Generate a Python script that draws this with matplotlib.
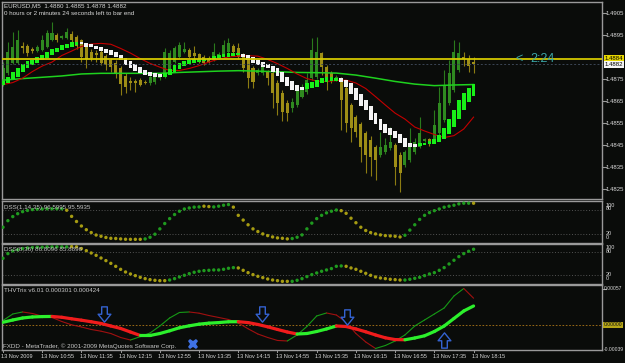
import matplotlib
matplotlib.use("Agg")
import matplotlib.pyplot as plt
import matplotlib.transforms as mtransforms
from matplotlib.collections import LineCollection
from matplotlib.path import Path
import numpy as np

plt.rcParams['font.family'] = ['Liberation Sans', 'DejaVu Sans']

# ---------------- data ----------------
title_line1 = "EURUSD,M5  1.4880 1.4885 1.4878 1.4882"
title_line2 = "0 hours or 2 minutes 24 seconds left to bar end"
time_labels = ["13 Nov 2009", "13 Nov 10:55", "13 Nov 11:35", "13 Nov 12:15", "13 Nov 12:55",
               "13 Nov 13:35", "13 Nov 14:15", "13 Nov 14:55", "13 Nov 15:35", "13 Nov 16:15",
               "13 Nov 16:55", "13 Nov 17:35", "13 Nov 18:15"]
price_ticks = [1.4905, 1.4895, 1.4875, 1.4865, 1.4855, 1.4845, 1.4835, 1.4825]

open_ = [1.48727, 1.48777, 1.48823, 1.48823, 1.48900, 1.48900, 1.48886, 1.48877, 1.48882, 1.48895,
         1.48927, 1.48950, 1.48936, 1.48936, 1.48954, 1.48941, 1.48927, 1.48904, 1.48873, 1.48868,
         1.48873, 1.48854, 1.48836, 1.48823, 1.48800, 1.48764, 1.48741, 1.48741, 1.48745, 1.48736,
         1.48732, 1.48736, 1.48754, 1.48759, 1.48791, 1.48827, 1.48850, 1.48873, 1.48882, 1.48868,
         1.48864, 1.48850, 1.48845, 1.48836, 1.48850, 1.48850, 1.48873, 1.48900, 1.48891, 1.48859,
         1.48850, 1.48800, 1.48777, 1.48777, 1.48782, 1.48777, 1.48732, 1.48686, 1.48641, 1.48618,
         1.48632, 1.48668, 1.48691, 1.48754, 1.48759, 1.48868, 1.48804, 1.48777, 1.48745, 1.48754,
         1.48709, 1.48632, 1.48577, 1.48545, 1.48504, 1.48473, 1.48441, 1.48404, 1.48418, 1.48436,
         1.48450, 1.48404, 1.48359, 1.48382, 1.48418, 1.48441, 1.48468, 1.48477, 1.48473, 1.48504,
         1.48564, 1.48641, 1.48700, 1.48791, 1.48850, 1.48841, 1.48827]
high_ = [1.48827, 1.48918, 1.48964, 1.48973, 1.48918, 1.48909, 1.48895, 1.48904, 1.48950, 1.48973,
         1.49009, 1.48959, 1.48950, 1.48982, 1.48968, 1.48950, 1.48932, 1.48913, 1.48886, 1.48882,
         1.48882, 1.48864, 1.48845, 1.48836, 1.48809, 1.48777, 1.48759, 1.48750, 1.48754, 1.48745,
         1.48768, 1.48764, 1.48773, 1.48891, 1.48882, 1.48900, 1.48918, 1.48918, 1.48891, 1.48900,
         1.48868, 1.48859, 1.48854, 1.48913, 1.48873, 1.48927, 1.48936, 1.48909, 1.48913, 1.48868,
         1.48859, 1.48809, 1.48800, 1.48818, 1.48791, 1.48786, 1.48745, 1.48700, 1.48654, 1.48664,
         1.48723, 1.48727, 1.48777, 1.48936, 1.48941, 1.48873, 1.48814, 1.48786, 1.48768, 1.48759,
         1.48718, 1.48641, 1.48586, 1.48554, 1.48514, 1.48491, 1.48450, 1.48509, 1.48482, 1.48532,
         1.48459, 1.48418, 1.48427, 1.48527, 1.48482, 1.48577, 1.48482, 1.48482, 1.48609, 1.48714,
         1.48791, 1.48836, 1.48927, 1.48918, 1.48873, 1.48859, 1.48850]
low_ = [1.48718, 1.48768, 1.48818, 1.48818, 1.48868, 1.48854, 1.48868, 1.48873, 1.48877, 1.48891,
        1.48923, 1.48918, 1.48932, 1.48932, 1.48918, 1.48886, 1.48827, 1.48800, 1.48832, 1.48827,
        1.48814, 1.48791, 1.48782, 1.48754, 1.48677, 1.48686, 1.48700, 1.48691, 1.48718, 1.48727,
        1.48723, 1.48727, 1.48745, 1.48754, 1.48782, 1.48823, 1.48845, 1.48868, 1.48845, 1.48836,
        1.48823, 1.48814, 1.48823, 1.48832, 1.48845, 1.48845, 1.48868, 1.48864, 1.48841, 1.48782,
        1.48709, 1.48709, 1.48768, 1.48768, 1.48723, 1.48618, 1.48586, 1.48559, 1.48559, 1.48600,
        1.48623, 1.48664, 1.48682, 1.48745, 1.48750, 1.48768, 1.48700, 1.48732, 1.48741, 1.48518,
        1.48509, 1.48464, 1.48486, 1.48373, 1.48323, 1.48309, 1.48291, 1.48395, 1.48409, 1.48427,
        1.48268, 1.48236, 1.48350, 1.48373, 1.48409, 1.48436, 1.48464, 1.48445, 1.48464, 1.48495,
        1.48554, 1.48632, 1.48691, 1.48782, 1.48809, 1.48782, 1.48777]
close_ = [1.48800, 1.48873, 1.48895, 1.48927, 1.48891, 1.48868, 1.48877, 1.48895, 1.48927, 1.48959,
          1.48959, 1.48927, 1.48945, 1.48964, 1.48927, 1.48900, 1.48850, 1.48841, 1.48845, 1.48859,
          1.48823, 1.48814, 1.48804, 1.48777, 1.48727, 1.48714, 1.48732, 1.48732, 1.48723, 1.48732,
          1.48759, 1.48759, 1.48768, 1.48873, 1.48868, 1.48891, 1.48904, 1.48886, 1.48850, 1.48854,
          1.48836, 1.48823, 1.48827, 1.48873, 1.48864, 1.48904, 1.48913, 1.48873, 1.48850, 1.48800,
          1.48754, 1.48736, 1.48791, 1.48804, 1.48754, 1.48686, 1.48641, 1.48600, 1.48595, 1.48645,
          1.48700, 1.48700, 1.48745, 1.48882, 1.48873, 1.48804, 1.48754, 1.48741, 1.48759, 1.48654,
          1.48550, 1.48527, 1.48509, 1.48441, 1.48404, 1.48395, 1.48382, 1.48441, 1.48450, 1.48464,
          1.48350, 1.48323, 1.48418, 1.48450, 1.48464, 1.48504, 1.48477, 1.48459, 1.48541, 1.48641,
          1.48723, 1.48777, 1.48873, 1.48868, 1.48841, 1.48809, 1.48818]

ha_open = [1.48723, 1.48732, 1.48750, 1.48759, 1.48782, 1.48800, 1.48814, 1.48823, 1.48836, 1.48845,
           1.48859, 1.48873, 1.48882, 1.48891, 1.48895, 1.48904, 1.48918, 1.48913, 1.48909, 1.48900,
           1.48895, 1.48886, 1.48882, 1.48873, 1.48859, 1.48845, 1.48832, 1.48818, 1.48804, 1.48791,
           1.48782, 1.48777, 1.48773, 1.48759, 1.48768, 1.48782, 1.48795, 1.48809, 1.48818, 1.48823,
           1.48827, 1.48832, 1.48836, 1.48841, 1.48845, 1.48850, 1.48850, 1.48854, 1.48859, 1.48864,
           1.48859, 1.48850, 1.48836, 1.48827, 1.48818, 1.48809, 1.48800, 1.48782, 1.48759, 1.48741,
           1.48723, 1.48714, 1.48704, 1.48709, 1.48714, 1.48732, 1.48736, 1.48741, 1.48741, 1.48754,
           1.48745, 1.48732, 1.48709, 1.48682, 1.48654, 1.48627, 1.48595, 1.48568, 1.48545, 1.48527,
           1.48514, 1.48500, 1.48482, 1.48459, 1.48454, 1.48445, 1.48450, 1.48454, 1.48454, 1.48464,
           1.48477, 1.48500, 1.48532, 1.48568, 1.48609, 1.48645, 1.48673]
ha_close = [1.48741, 1.48759, 1.48782, 1.48800, 1.48818, 1.48832, 1.48836, 1.48850, 1.48859, 1.48873,
            1.48886, 1.48891, 1.48904, 1.48909, 1.48918, 1.48918, 1.48909, 1.48895, 1.48895, 1.48886,
            1.48877, 1.48868, 1.48859, 1.48850, 1.48836, 1.48814, 1.48800, 1.48786, 1.48777, 1.48768,
            1.48764, 1.48759, 1.48759, 1.48777, 1.48795, 1.48814, 1.48823, 1.48832, 1.48836, 1.48841,
            1.48841, 1.48841, 1.48845, 1.48854, 1.48859, 1.48864, 1.48868, 1.48868, 1.48868, 1.48850,
            1.48836, 1.48823, 1.48814, 1.48804, 1.48800, 1.48782, 1.48764, 1.48736, 1.48718, 1.48700,
            1.48695, 1.48700, 1.48732, 1.48736, 1.48745, 1.48754, 1.48759, 1.48759, 1.48754, 1.48736,
            1.48714, 1.48682, 1.48654, 1.48627, 1.48609, 1.48564, 1.48545, 1.48518, 1.48504, 1.48495,
            1.48482, 1.48459, 1.48441, 1.48441, 1.48441, 1.48459, 1.48459, 1.48468, 1.48477, 1.48495,
            1.48527, 1.48568, 1.48609, 1.48654, 1.48686, 1.48709, 1.48727]

red_ma_bars = list(range(0, 97, 2))
red_ma = [1.48725, 1.48734, 1.48754, 1.48784, 1.48809, 1.48827, 1.48857, 1.48877, 1.48898, 1.48909,
          1.48912, 1.48908, 1.48889, 1.48868, 1.48843, 1.48821, 1.48804, 1.48789, 1.48789, 1.48798,
          1.48811, 1.48827, 1.48841, 1.48850, 1.48854, 1.48856, 1.48854, 1.48839, 1.48820, 1.48798,
          1.48773, 1.48752, 1.48741, 1.48739, 1.48743, 1.48745, 1.48732, 1.48707, 1.48670, 1.48632,
          1.48595, 1.48568, 1.48532, 1.48514, 1.48498, 1.48484, 1.48493, 1.48523, 1.48577]
green_ma_bars = list(range(0, 97, 4))
green_ma = [1.48745, 1.48752, 1.48758, 1.48764, 1.48773, 1.48776, 1.48776, 1.48776, 1.48776, 1.48780,
            1.48783, 1.48786, 1.48788, 1.48786, 1.48783, 1.48780, 1.48779, 1.48777, 1.48768, 1.48754,
            1.48739, 1.48727, 1.48720, 1.48723, 1.48725]
hline_price = 1.4884
bid_price = 1.4882

dss1_label = "DSS(1,14,35) 96.5995 95.5935"
dss1 = [37, 53, 63, 70, 75, 78, 80, 81, 81.5, 82, 82, 82, 82, 78.5, 63.5, 51, 40, 31, 24, 18,
        15, 12, 10, 9.5, 8.5, 7.7, 7.5, 7.5, 7.5, 8.5, 12.5, 20, 33, 46, 58, 68, 76, 81.5, 84, 86,
        86.6, 88.3, 87.4, 86.6, 88.3, 90.7, 92.3, 86, 66, 54.5, 43, 33, 26.5, 20.7, 16.6, 13.3, 11, 10, 8.6, 9.4,
        12.6, 18.3, 33, 47, 58, 66, 72, 76, 79, 77.4, 71, 59, 48, 37, 29, 24, 20.7, 18.3, 16.6, 15.8,
        15, 13.3, 17.4, 30, 43, 56, 66, 72.6, 77.4, 81.5, 85.8, 88.3, 90.7, 94, 95.6, 95.6, 95.6]
dss1_trend = ("GGGGGGGGGGGGG" + "OOOOOOOOOOOOOOOO" + "GGGGGGGGGGGG" + "OO" + "GGGG" +
              "OOOOOOOOOOOO" + "GGGGGGGGGG" + "OOOOOOOOOOOOO" + "GGGGGGGGGGGGGG" + "O")
dss2_label = "DSS(8,36) 86.8096 85.8896"
dss2 = [64, 76, 83, 86, 89, 90.6, 91.5, 92.4, 92.4, 93.3, 93.3, 93.3, 93.3, 93.3, 94, 93.3, 89, 83.6, 77.6, 71.6,
        64.7, 58, 51, 43.3, 35.6, 28.8, 23.7, 19.4, 15.1, 11.7, 9.1, 7.4, 6.5, 6.5, 8.2, 11.7, 16, 20.3, 24.5, 28,
        30.6, 32.3, 33.1, 34, 34, 35.7, 38.3, 40, 39.2, 33.1, 27.1, 22, 17.7, 14.3, 10.8, 8.2, 6.5, 4.8, 4.8, 4.8,
        7.4, 11.7, 16.9, 22, 26.3, 30.6, 34, 37.5, 43.4, 44.3, 43.4, 39.2, 35.7, 30.6, 25.4, 20.3, 16, 13.4, 11.7, 10,
        9.1, 8.2, 8.2, 10, 12.5, 15.1, 19.4, 23.7, 27.1, 33.1, 40, 49.4, 58.9, 68.3, 76, 82, 87.2]
dss2_trend = ("GGGGGGGGGGGGGG" + "OOOOOOOOOOOOOOOOOOOO" + "GGGGGGGGGGGGGG" + "OOOOOOOOOOO" +
              "GGGGGGGGGGG" + "OOOOOOOOOOOO" + "GGGGGGGGGGGGGGG")

thv_label = "THVTrix v6.01 0.000301 0.000424"
thv_bars = list(range(0, 97, 2))
thv_main = [0.000043, 0.000079, 0.000111, 0.000127, 0.000133, 0.000135, 0.000122, 0.000098, 0.000076, 0.000051,
            0.000024, -0.000016, -0.000055, -0.000111, -0.000166, -0.000166, -0.000135, -0.000092, -0.000044, -0.000013,
            0.000013, 0.000029, 0.000038, 0.000051, 0.000052, 0.000038, 0.000008, -0.000029, -0.000071, -0.000111,
            -0.000143, -0.000135, -0.000103, -0.000063, -0.000016, -0.000024, -0.000063, -0.000108, -0.000158, -0.000203,
            -0.000231, -0.000234, -0.000206, -0.000171, -0.000103, -0.000016, 0.000103, 0.000222, 0.000301]
thv_fast = [0.000071, 0.000174, 0.000206, 0.000182, 0.000139, 0.000119, 0.000055, 0.000003, -0.000032, -0.000071,
            -0.000098, -0.000135, -0.000198, -0.000238, -0.000185, -0.000127, -0.000016, 0.000111, 0.000198, 0.000206,
            0.000187, 0.000150, 0.000119, 0.000087, 0.000032, -0.000060, -0.000143, -0.000198, -0.000245, -0.000253,
            -0.000158, -0.000024, 0.000143, 0.000190, 0.000158, 0.000048, -0.000135, -0.000269, -0.000372, -0.000325,
            -0.000253, -0.000158, -0.000016, 0.000079, 0.000174, 0.000269, 0.000459, 0.000578, 0.000424]
sell_arrow_bars = [20.6, 52.8, 70.2]
sell_arrow_vals = [0.000166, 0.000166, 0.000119]
buy_arrow_bars = [90.0]
buy_arrow_vals = [-0.00023]
cross_bars = [38.8]
cross_vals = [-0.00030]
copyright_text = "FXDD - MetaTrader, \u00a9 2001-2009 MetaQuotes Software Corp."

# ---------------- styling ----------------
W, H = 625, 363
BG = '#0a0c0a'
SPINE = '#9a9a9a'
TXT = '#d8d8d8'
FS = 4.5
n = len(open_)
x = np.arange(n)
XL = (-0.2, 122.2)

fig = plt.figure(figsize=(W / 100, H / 100), dpi=100, facecolor=BG)


def ax_px(x0, y0, x1, y1):
    a = fig.add_axes([x0 / W, 1 - y1 / H, (x1 - x0) / W, (y1 - y0) / H])
    a.set_facecolor(BG)
    for s in a.spines.values():
        s.set_color(SPINE)
        s.set_linewidth(1.0)
    a.set_xticks([])
    a.set_yticks([])
    a.set_xlim(*XL)
    return a


def rtext(ax, yval, s, dx=4, **kw):
    tr = mtransforms.offset_copy(mtransforms.blended_transform_factory(ax.transAxes, ax.transData),
                                 fig=fig, x=dx, y=0, units='dots')
    kw.setdefault('color', TXT)
    kw.setdefault('fontsize', FS)
    ax.text(1.0, yval, s, transform=tr, ha='left', va='center', **kw)


def rtick(ax, yval):
    tr = mtransforms.blended_transform_factory(ax.transAxes, ax.transData)
    ax.plot([1.0, 1.006], [yval, yval], color=SPINE, lw=0.8, transform=tr, clip_on=False)


def ltext(ax, px_x, px_y_from_top, s, **kw):
    kw.setdefault('color', TXT)
    kw.setdefault('fontsize', FS)
    fig.text(px_x / W, 1 - px_y_from_top / H, s, ha='left', va='center', **kw)


# ---------------- main panel ----------------
ax = ax_px(2, 2, 602, 199)
ax.set_ylim(1.48205, 1.49100)

o = np.array(open_); c = np.array(close_); hi = np.array(high_); lo = np.array(low_)
bull = c >= o
body_col = np.where(bull, '#2f8a20', '#9e8e16')
wick_col = np.where(bull, '#2a7a1c', '#8c7c12')
ax.vlines(x, lo, hi, colors=wick_col, lw=0.8, zorder=2)
ax.bar(x, np.maximum(np.abs(c - o), 0.00002), bottom=np.minimum(o, c), width=0.62,
       color=body_col, lw=0, zorder=2.2)

ax.plot(green_ma_bars, green_ma, color='#1ed21e', lw=1.1, zorder=3)
ax.plot(red_ma_bars, red_ma, color='#c40000', lw=0.8, zorder=3)

hao = np.array(ha_open); hac = np.array(ha_close)
ha_col = np.where(hac >= hao, '#18f018', '#f4f4f4')
ax.bar(x, np.maximum(np.abs(hac - hao), 0.00003), bottom=np.minimum(hao, hac), width=0.78,
       color=ha_col, lw=0, zorder=4)

ax.axhline(bid_price, color='#3c4656', lw=0.7, ls=(0, (2, 2)), zorder=4.5)
ax.axhline(hline_price, color='#d4c800', lw=1.3, zorder=5)
ax.text(105.2, hline_price, '<', color='#3aa8a8', fontsize=9, ha='center', va='center', zorder=6)
ax.text(107.6, hline_price, '2:24', color='#3aa8a8', fontsize=9, ha='left', va='center', zorder=6)

for p in price_ticks:
    rtick(ax, p)
    rtext(ax, p, f"{p:.4f}", fontsize=4.3)
rtext(ax, hline_price + 0.00004, f"{hline_price:.4f}", dx=3, color='black', fontsize=4.3,
      bbox=dict(boxstyle='square,pad=0.15', fc='#e8d800', ec='none'))
rtext(ax, bid_price - 0.00004, f"{bid_price:.4f}", dx=3, color='black', fontsize=4.3,
      bbox=dict(boxstyle='square,pad=0.15', fc='#f4f4f4', ec='none'))

ltext(ax, 4, 6, title_line1)
ltext(ax, 4, 13.5, title_line2)

# ---------------- DSS panels ----------------
GREEN_DOT = '#1f9a1f'
OLIVE_DOT = '#a69c12'


def dss_panel(y0, y1, ylim, vals, trend, label, lbl_pos):
    a = ax_px(2, y0, 602, y1)
    a.set_ylim(*ylim)
    for lv in (80, 20):
        a.axhline(lv, color='#5c5c5c', lw=0.6, ls=(0, (1.2, 2.2)), zorder=1)
    cols = [GREEN_DOT if t == 'G' else OLIVE_DOT for t in trend]
    a.scatter(x, vals, s=6, c=cols, marker='o', linewidths=0, zorder=3)
    ltext(a, 4, y0 + 6, label, color='#c8c8c8')
    for txt, v in lbl_pos:
        rtext(a, v, txt, fontsize=4.0)
    return a


dss_panel(201, 242.5, (-0.25, 101), dss1, dss1_trend, dss1_label,
          [("100", 91), ("80", 82), ("20", 22), ("0", 12)])
dss_panel(243.5, 283.5, (-0.8, 102), dss2, dss2_trend, dss2_label,
          [("100", 92), ("80", 82), ("20", 22), ("0", 12)])

# ---------------- THV panel ----------------
ax3 = ax_px(2, 285, 602, 350)
ax3.set_ylim(-0.000396, 0.000633)
ax3.axhline(0, color='#b07818', lw=0.6, ls=(0, (2, 2)), zorder=1)


def colored_line(a, xs, ys, up, dn, lw, z):
    xs = np.asarray(xs, float); ys = np.asarray(ys, float)
    pts = np.column_stack([xs, ys])
    segs = np.stack([pts[:-1], pts[1:]], axis=1)
    cols = [up if ys[k + 1] >= ys[k] else dn for k in range(len(ys) - 1)]
    a.add_collection(LineCollection(segs, colors=cols, linewidths=lw, zorder=z, capstyle='round'))


colored_line(ax3, thv_bars, thv_fast, '#169a16', '#a01010', 0.8, 2)
colored_line(ax3, thv_bars, thv_main, '#2cf02c', '#f01c1c', 2.3, 3)

down_arrow = Path([(-0.22, 0.6), (0.22, 0.6), (0.22, 0.02), (0.5, 0.02), (0, -0.6), (-0.5, 0.02),
                   (-0.22, 0.02), (-0.22, 0.6)], closed=True)
up_arrow = Path([(-0.22, -0.6), (0.22, -0.6), (0.22, -0.02), (0.5, -0.02), (0, 0.6), (-0.5, -0.02),
                 (-0.22, -0.02), (-0.22, -0.6)], closed=True)
ax3.plot(sell_arrow_bars, sell_arrow_vals, ls='none', marker=down_arrow, ms=11, mfc=BG,
         mec='#3462d0', mew=1.0, zorder=5)
ax3.plot(buy_arrow_bars, buy_arrow_vals, ls='none', marker=up_arrow, ms=11, mfc=BG,
         mec='#3462d0', mew=1.0, zorder=5)
ax3.plot(cross_bars, cross_vals, ls='none', marker='X', ms=7.5, mfc='#3f72e6', mec='#3f72e6',
         mew=0, zorder=5)

ltext(ax3, 4, 290.5, thv_label, color='#c8c8c8')
ltext(ax3, 3, 346.5, copyright_text, color='#c8c8c8')
rtick(ax3, 0.00057)
rtext(ax3, 0.00057, "0.00057", dx=2, fontsize=3.6)
rtext(ax3, 0.0, "0.00000", dx=2, color='#101010', fontsize=3.6,
      bbox=dict(boxstyle='square,pad=0.12', fc='#b8a818', ec='none'))
rtext(ax3, -0.00039, "-0.00039", dx=1.5, fontsize=3.6)

# time axis labels
tr_time = mtransforms.offset_copy(mtransforms.blended_transform_factory(ax3.transData, ax3.transAxes),
                                  fig=fig, x=-1.5, y=-6, units='dots')
tr_tick = mtransforms.blended_transform_factory(ax3.transData, ax3.transAxes)
for k, lab in enumerate(time_labels):
    bi = 8 * k
    ax3.text(bi, 0, lab, transform=tr_time, color=TXT, fontsize=4.0, ha='left', va='center',
             clip_on=False)
    ax3.plot([bi, bi], [0, -0.03], color=SPINE, lw=0.7, transform=tr_tick, clip_on=False)

fig.savefig("out.png", dpi=100, facecolor=BG)
